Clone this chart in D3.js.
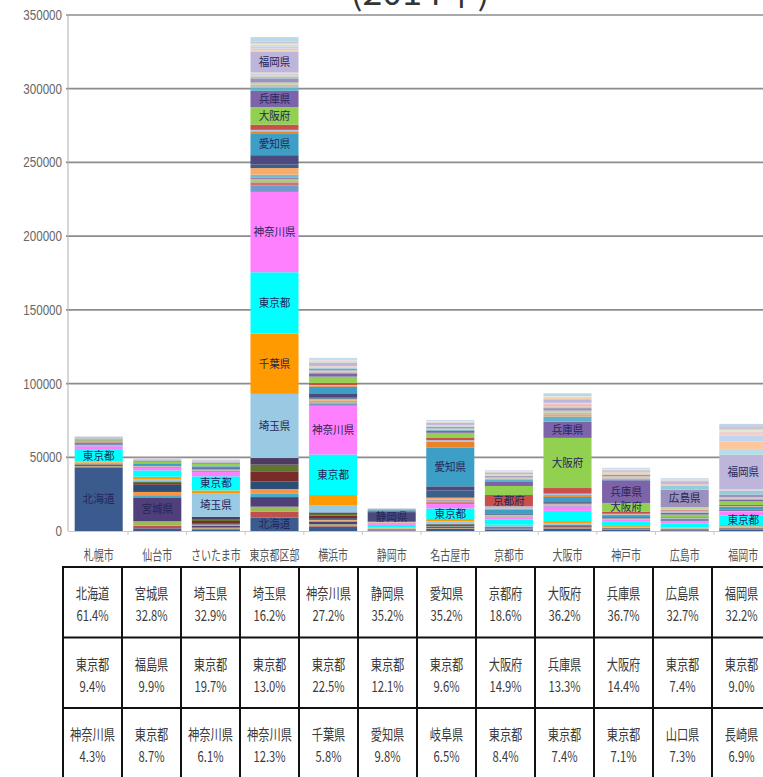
<!DOCTYPE html>
<html><head><meta charset="utf-8">
<script src="https://cdn.jsdelivr.net/npm/d3@7"></script>
<style>body{margin:0;background:#fff;overflow:hidden}svg{display:block}</style>
</head><body>
<svg id="c" width="763" height="777"></svg>
<script>
const title = "(2014年)";
const cities = ["札幌市","仙台市","さいたま市","東京都区部","横浜市","静岡市","名古屋市","京都市","大阪市","神戸市","広島市","福岡市"];
const prefectures = ["北海道","青森県","岩手県","宮城県","秋田県","山形県","福島県","茨城県","栃木県","群馬県","埼玉県","千葉県","東京都","神奈川県","新潟県","富山県","石川県","福井県","山梨県","長野県","岐阜県","静岡県","愛知県","三重県","滋賀県","京都府","大阪府","兵庫県","奈良県","和歌山県","鳥取県","島根県","岡山県","広島県","山口県","徳島県","香川県","愛媛県","高知県","福岡県","佐賀県","長崎県","熊本県","大分県","宮崎県","鹿児島県","沖縄県"];
const palette = ["#3b5b8f","#c0504d","#9bbb59","#50407a","#4bacc6","#f79646","#2c4d75","#772c2a","#5f7530","#4d3b62","#99c9e3","#ff9a00","#00ffff","#ff80ff","#729aca","#cd7371","#afc97a","#9983b5","#6fbdd1","#f9ab6b","#3a5f8b","#4a4a7e","#3d9fc5","#e8832a","#a9c4e6","#c8504a","#92d050","#7d63a8","#5db5cc","#f6a36a","#95b3d7","#d99694","#c3d69b","#9b91bd","#93cddd","#fac090","#b9cde5","#e6b9b8","#d7e4bd","#bdb6da","#b7dee8","#fcc79a","#c0d4ee","#f0cfcf","#e0ebcc","#cdc3dd","#b9d9e6"];

const sapporo   = [43000,800,350,600,250,150,150,250,150,150,600,550,8000,2500,250,80,100,50,80,200,120,400,1100,120,100,350,1100,500,150,60,30,30,150,300,100,40,80,80,40,600,40,80,100,60,60,100,100];
const sendai    = [1800,1800,3000,16200,1500,2200,4900,1100,700,400,1700,1500,4300,1800,700,100,100,50,100,250,100,400,900,100,100,300,900,400,150,50,40,40,150,300,100,40,80,80,40,600,40,80,100,60,60,100,100];
const saitama   = [1100,600,600,1100,500,500,900,1500,1300,1500,16100,1800,9600,3000,800,100,100,50,150,500,100,700,1300,100,100,300,1200,450,150,60,40,40,150,300,100,40,80,80,40,800,50,100,120,80,70,130,150];
const tokyo     = [9000,4000,3500,6500,2500,3000,5000,7000,4500,4500,43500,41000,41500,54500,4500,2000,2000,1000,2200,4500,2500,6200,14900,1300,1000,3500,12000,11000,2000,900,600,600,1500,2800,1300,600,900,600,600,14000,800,1400,1600,900,900,1400,3000];
const yokohama  = [3000,800,800,1800,600,600,1100,1800,1100,1000,5000,6800,27500,33000,1500,400,500,250,800,1400,650,3000,4500,600,500,1500,4200,2200,600,250,200,200,700,1300,500,250,400,400,250,2300,250,500,550,350,350,550,600];
const shizuoka  = [300,80,80,200,60,60,100,200,120,120,500,400,1900,1200,120,60,60,40,220,330,170,6500,1300,80,50,120,300,150,40,15,10,10,50,80,30,15,25,25,10,120,10,25,30,20,20,30,40];
const nagoya    = [1500,300,300,700,200,200,300,600,400,400,1700,1500,7200,3000,700,600,900,500,300,1300,4900,2800,26400,4000,900,1500,3500,1500,400,200,150,150,600,900,350,200,350,350,200,1300,150,300,350,250,250,350,400];
const kyoto     = [900,150,150,400,100,100,200,350,200,200,800,700,3450,1500,200,200,400,350,80,350,500,700,2500,700,1600,7650,6100,3200,1300,300,200,200,600,900,250,200,300,300,200,1240,100,250,250,180,150,250,300];
const osaka     = [1500,200,200,500,150,150,250,500,300,300,1400,1300,6900,2900,300,300,500,400,100,400,600,1000,3000,1200,1000,3800,34000,11000,3500,1500,500,500,1500,1700,600,700,900,900,500,2400,250,550,600,400,400,650,1200];
const kobe      = [800,100,100,250,80,80,120,250,150,150,600,600,3000,1300,150,150,250,200,50,200,300,500,1400,400,500,1300,6050,15400,700,400,300,250,1000,900,350,600,500,450,300,1000,100,200,250,180,180,300,450];
const hiroshima = [500,60,60,150,50,50,80,200,100,100,500,500,2670,1100,100,100,120,80,50,150,200,400,1100,200,200,500,1800,1200,200,100,600,1200,1800,11800,2640,200,300,600,200,1800,150,300,350,300,200,400,400];
const fukuoka   = [1000,100,100,250,80,80,120,250,150,150,900,900,6500,2300,150,100,150,80,60,200,250,500,2000,300,250,700,2500,1200,250,150,200,300,700,1800,2500,150,300,500,200,23300,4000,5000,4000,2500,1500,2500,1500];
const cityValues = [sapporo,sendai,saitama,tokyo,yokohama,shizuoka,nagoya,kyoto,osaka,kobe,hiroshima,fukuoka];

const yTicks = [0,50000,100000,150000,200000,250000,300000,350000];

const segmentLabels = [["札幌市","北海道"],["札幌市","東京都"],["仙台市","宮城県"],["さいたま市","埼玉県"],["さいたま市","東京都"],
  ["東京都区部","北海道"],["東京都区部","埼玉県"],["東京都区部","千葉県"],["東京都区部","東京都"],["東京都区部","神奈川県"],
  ["東京都区部","愛知県"],["東京都区部","大阪府"],["東京都区部","兵庫県"],["東京都区部","福岡県"],
  ["横浜市","東京都"],["横浜市","神奈川県"],["静岡市","静岡県"],["名古屋市","東京都"],["名古屋市","愛知県"],
  ["京都市","京都府"],["大阪市","大阪府"],["大阪市","兵庫県"],["神戸市","大阪府"],["神戸市","兵庫県"],
  ["広島市","広島県"],["福岡市","東京都"],["福岡市","福岡県"]];

const rank1 = [["北海道","61.4%"],["宮城県","32.8%"],["埼玉県","32.9%"],["埼玉県","16.2%"],["神奈川県","27.2%"],["静岡県","35.2%"],["愛知県","35.2%"],["京都府","18.6%"],["大阪府","36.2%"],["兵庫県","36.7%"],["広島県","32.7%"],["福岡県","32.2%"]];
const rank2 = [["東京都","9.4%"],["福島県","9.9%"],["東京都","19.7%"],["東京都","13.0%"],["東京都","22.5%"],["東京都","12.1%"],["東京都","9.6%"],["大阪府","14.9%"],["兵庫県","13.3%"],["大阪府","14.4%"],["東京都","7.4%"],["東京都","9.0%"]];
const rank3 = [["神奈川県","4.3%"],["東京都","8.7%"],["神奈川県","6.1%"],["神奈川県","12.3%"],["千葉県","5.8%"],["愛知県","9.8%"],["岐阜県","6.5%"],["東京都","8.4%"],["東京都","7.4%"],["東京都","7.1%"],["山口県","7.3%"],["長崎県","6.9%"]];
const tableRows = [rank1, rank2, rank3];

// ---------- drawing ----------
const svg = d3.select("#c");
const JP = "'Noto Sans CJK JP','Noto Sans',sans-serif";
const plotL = 68, plotR = 763;
const y = d3.scaleLinear().domain([0,350000]).range([531,15]);
const x = d3.scaleBand().domain(cities).range([69.4, 772.6]).paddingInner(0.18).paddingOuter(0.09);
const xStep = d3.scaleBand().domain(cities).range([69.4, 772.6]);
const tx = d3.scaleBand().domain(cities).range([63, 771]);

function sq(sel, px, py, sx){ return sel.attr("transform", `translate(${px},${py}) scale(${sx},1)`); }

// title (mostly cut off at the top)
sq(svg.append("text"), 420, 5, 1.05).attr("text-anchor","middle")
  .style("font-family",JP).style("font-size","34px").attr("fill","#333").text(title);

// gridlines
svg.append("g").selectAll("line").data(yTicks.filter(d=>d>0)).join("line")
  .attr("x1",plotL-2).attr("x2",plotR).attr("y1",d=>y(d)).attr("y2",d=>y(d))
  .attr("stroke","#8c8c8c").attr("stroke-width",1.7);

// y axis line
svg.append("line").attr("x1",plotL).attr("x2",plotL).attr("y1",y(350000)).attr("y2",y(0))
  .attr("stroke","#b0b0b0").attr("stroke-width",1);
// x axis base + ticks
svg.append("line").attr("x1",plotL).attr("x2",plotR).attr("y1",y(0)+0.5).attr("y2",y(0)+0.5)
  .attr("stroke","#c8c8c8").attr("stroke-width",1);
svg.append("g").selectAll("line").data(cities).join("line")
  .attr("x1",d=>xStep(d)+xStep.step()).attr("x2",d=>xStep(d)+xStep.step())
  .attr("y1",y(0)).attr("y2",y(0)+4).attr("stroke","#c8c8c8");

// y tick labels
svg.append("g").selectAll("text").data(yTicks).join("text")
  .each(function(d){ sq(d3.select(this), 62, y(d)+5, 0.8); })
  .attr("text-anchor","end").style("font-family","'Liberation Sans',Arial,sans-serif")
  .style("font-size","14.5px").attr("fill","#666").text(d=>d);

// stacked bars
const rows = cities.map((c,i)=>{ const o={city:c}; prefectures.forEach((p,j)=>o[p]=cityValues[i][j]); return o; });
const series = d3.stack().keys(prefectures)(rows);
svg.append("g").selectAll("g").data(series).join("g")
  .attr("fill",(d,i)=>palette[i])
  .selectAll("rect").data(d=>d).join("rect")
  .attr("x",d=>x(d.data.city)).attr("width",x.bandwidth())
  .attr("y",d=>y(d[1])).attr("height",d=>Math.max(0,y(d[0])-y(d[1])));

// segment labels
const sByKey = new Map(series.map(s=>[s.key,s]));
svg.append("g").selectAll("text").data(segmentLabels).join("text")
  .each(function([c,p]){
    const s = sByKey.get(p); const d = s[cities.indexOf(c)];
    sq(d3.select(this), x(c)+x.bandwidth()/2, y((d[0]+d[1])/2)+4, 0.92);
  })
  .attr("text-anchor","middle").style("font-family",JP).style("font-size","11.5px")
  .attr("fill","#26265a").text(d=>d[1]);

// category labels
svg.append("g").selectAll("text").data(cities).join("text")
  .each(function(c){ sq(d3.select(this), x(c)+x.bandwidth()/2, 560, 0.74); })
  .attr("text-anchor","middle").style("font-family",JP).style("font-size","13.5px")
  .attr("fill","#555").text(d=>d);

// table
const tTop = 567, rowH = 70.5;
const tg = svg.append("g");
tableRows.forEach((row,r)=>{
  const top = tTop + r*rowH;
  row.forEach((cell,i)=>{
    const cx = tx(cities[i]) + tx.bandwidth()/2;
    sq(tg.append("text"), cx, top+32, 0.75).attr("text-anchor","middle")
      .style("font-family",JP).style("font-size","15px").attr("fill","#3a3a3a").text(cell[0]);
    sq(tg.append("text"), cx, top+54, 0.75).attr("text-anchor","middle")
      .style("font-family",JP).style("font-size","15px").attr("fill","#3a3a3a").text(cell[1]);
  });
});
const hLines = [0,1,2,3].map(k=>tTop+k*rowH);
tg.selectAll("line.h").data(hLines).join("line").attr("class","h")
  .attr("x1",62).attr("x2",772).attr("y1",d=>d).attr("y2",d=>d)
  .attr("stroke","#111").attr("stroke-width",2);
tg.selectAll("line.v").data(cities.concat(["_end"])).join("line").attr("class","v")
  .attr("x1",(d,i)=>63+i*tx.step()).attr("x2",(d,i)=>63+i*tx.step())
  .attr("y1",tTop).attr("y2",tTop+3*rowH)
  .attr("stroke","#111").attr("stroke-width",2);
</script>
</body></html>
